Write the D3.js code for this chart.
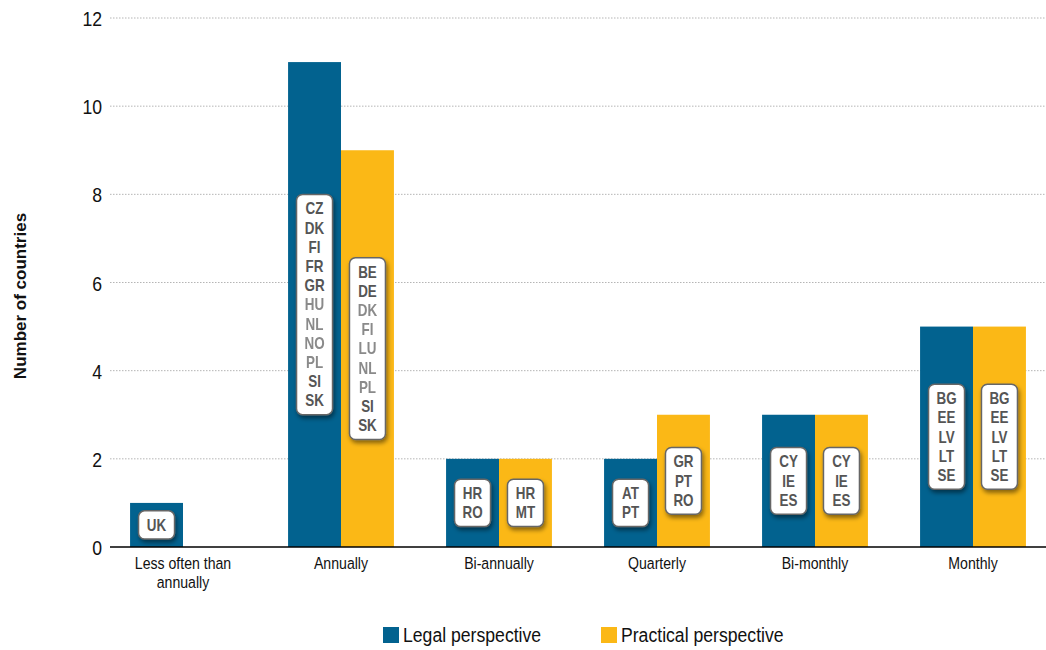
<!DOCTYPE html>
<html>
<head>
<meta charset="utf-8">
<script src="https://cdn.jsdelivr.net/npm/d3@7"></script>
<style>
  html, body { margin: 0; padding: 0; background: #fff; }
  svg { display: block; font-family: 'Liberation Sans', Arial, sans-serif; }
</style>
</head>
<body>
<svg id="chart" width="1046" height="650"></svg>
<script>
const categories = ["Less often than annually", "Annually", "Bi-annually", "Quarterly", "Bi-monthly", "Monthly"];
const seriesNames = ["Legal perspective", "Practical perspective"];
const legalValues = [1, 11, 2, 2, 3, 5];
const practicalValues = [0, 9, 2, 3, 3, 5];
const legalCountries = [["UK"], ["CZ","DK","FI","FR","GR","HU","NL","NO","PL","SI","SK"], ["HR","RO"], ["AT","PT"], ["CY","IE","ES"], ["BG","EE","LV","LT","SE"]];
const practicalCountries = [[], ["BE","DE","DK","FI","LU","NL","PL","SI","SK"], ["HR","MT"], ["GR","PT","RO"], ["CY","IE","ES"], ["BG","EE","LV","LT","SE"]];
const legalFaded = [[], ["HU","NL","NO","PL"], [], [], [], []];
const practicalFaded = [[], ["DK","FI","LU","NL","PL"], [], [], [], []];
const yTicks = [0, 2, 4, 6, 8, 10, 12];
const colors = ["#02628f", "#fbb816"];

const svg = d3.select("#chart");
const defs = svg.append("defs");
const f = defs.append("filter").attr("id", "shadow").attr("x", "-50%").attr("y", "-50%").attr("width", "200%").attr("height", "200%");
f.append("feDropShadow").attr("dx", 1.5).attr("dy", 3).attr("stdDeviation", 2).attr("flood-color", "#000").attr("flood-opacity", 0.45);
const fb = defs.append("filter").attr("id", "blur");
fb.append("feGaussianBlur").attr("stdDeviation", 0.6);

// condensed text helper (no narrow font installed)
function ntext(sel, x, yv, txt, size, sx, anchor) {
  return sel.append("text")
    .attr("transform", `translate(${x},${yv}) scale(${sx},1)`)
    .attr("text-anchor", anchor || "middle")
    .attr("font-size", size).attr("fill", "#111").text(txt);
}

const x0 = d3.scaleBand().domain(categories).range([104, 1052]).paddingInner(0.33).paddingOuter(0.165);
const x1 = d3.scaleBand().domain([0, 1]).range([0, x0.bandwidth()]);
const y = d3.scaleLinear().domain([0, 12]).range([547, 18]);

// gridlines
svg.append("g").selectAll("line").data(yTicks.filter(d => d > 0)).join("line")
  .attr("x1", 110).attr("x2", 1046)
  .attr("y1", d => y(d)).attr("y2", d => y(d))
  .attr("stroke", "#b5b5b5").attr("stroke-width", 1).attr("stroke-dasharray", "1.5,1.5");

// y axis
const yAxis = svg.append("g").attr("transform", "translate(110,0)")
  .call(d3.axisLeft(y).tickValues(yTicks).tickSize(0).tickPadding(0));
yAxis.select(".domain").remove();
yAxis.selectAll("text")
  .attr("x", 0).attr("dy", "0.36em")
  .attr("transform", "translate(-8,0) scale(0.84,1)")
  .attr("font-family", null).attr("font-size", 21).attr("fill", "#111");

// bars
const series = [
  { values: legalValues, countries: legalCountries, faded: legalFaded },
  { values: practicalValues, countries: practicalCountries, faded: practicalFaded }
];
series.forEach((s, si) => {
  svg.append("g").selectAll("rect").data(categories).join("rect")
    .attr("x", c => x0(c) + x1(si))
    .attr("width", x1.bandwidth())
    .attr("y", (c, i) => y(s.values[i]))
    .attr("height", (c, i) => y(0) - y(s.values[i]))
    .attr("fill", colors[si]);
});

// baseline
svg.append("line").attr("x1", 110).attr("x2", 1046).attr("y1", y(0)).attr("y2", y(0))
  .attr("stroke", "#000").attr("stroke-width", 1.5);

// label boxes
const lineH = 19.2, boxW = 36;
series.forEach((s, si) => {
  categories.forEach((c, i) => {
    const list = s.countries[i];
    if (!list.length) return;
    const cx = x0(c) + x1(si) + x1.bandwidth() / 2;
    const cy = (y(0) + y(s.values[i])) / 2;
    const h = list.length * lineH + 9;
    const g = svg.append("g");
    g.append("rect").attr("x", cx - boxW / 2).attr("y", cy - h / 2).attr("width", boxW).attr("height", h)
      .attr("rx", 6).attr("fill", "#fff").attr("stroke", "#666").attr("stroke-width", 1.5)
      .attr("filter", "url(#shadow)");
    g.selectAll("text").data(list).join("text")
      .attr("transform", (d, k) => `translate(${cx},${cy - h / 2 + 4.5 + lineH * (k + 0.5)}) scale(0.84,1)`)
      .attr("dy", "0.36em").attr("text-anchor", "middle")
      .attr("font-weight", "bold").attr("font-size", 16)
      .attr("fill", d => s.faded[i].includes(d) ? "#8a8a8a" : "#555")
      .attr("filter", d => s.faded[i].includes(d) ? "url(#blur)" : null)
      .text(d => d);
  });
});

// category labels
const catG = svg.append("g");
categories.forEach(c => {
  const cx = x0(c) + x0.bandwidth() / 2;
  const lines = c === "Less often than annually" ? ["Less often than", "annually"] : [c];
  lines.forEach((l, k) => ntext(catG, cx, 569 + k * 19, l, 17, 0.83));
});

// y title
svg.append("text").attr("transform", `translate(26,${(210 + 382) / 2}) rotate(-90)`)
  .attr("text-anchor", "middle")
  .attr("font-weight", "bold").attr("font-size", 17).attr("fill", "#111").text("Number of countries");

// legend
const legendX = [383, 601];
seriesNames.forEach((n, i) => {
  svg.append("rect").attr("x", legendX[i]).attr("y", 627).attr("width", 16).attr("height", 16).attr("fill", colors[i]);
  ntext(svg, legendX[i] + 20, 642, n, 21, 0.84, "start");
});
</script>
</body>
</html>
